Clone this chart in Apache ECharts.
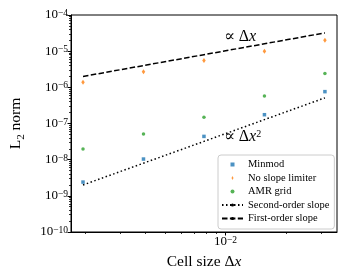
<!DOCTYPE html>
<html><head><meta charset="utf-8">
<script src="https://cdn.jsdelivr.net/npm/echarts@6/dist/echarts.min.js"></script>
<style>html,body{margin:0;padding:0;background:#fff}#c{width:350px;height:280px}</style>
</head><body><div id="c"></div>
<script>
// ---- data ----
const cellSize = [0.001953125, 0.00390625, 0.0078125, 0.015625, 0.03125];
const minmod = [2.4e-9, 1.04e-8, 4.4e-8, 1.75e-7, 7.6e-7];
const noLimiter = [1.38e-6, 2.7e-6, 5.5e-6, 9.9e-6, 2.0e-5];
const amrGrid = [1.97e-8, 5.1e-8, 1.5e-7, 5.8e-7, 2.4e-6];
const secondOrder = [2e-9, 8e-9, 3.2e-8, 1.28e-7, 5.12e-7];
const firstOrder = [2e-6, 4e-6, 8e-6, 1.6e-5, 3.2e-5];
const xMin = 0.001702, xMax = 0.03589;
const yMin = 1e-10, yMax = 1e-4;
const xMajorTicks = [0.01];
const xMinorTicks = [0.002, 0.003, 0.004, 0.005, 0.006, 0.007, 0.008, 0.009, 0.02, 0.03];
const names = ['Minmod', 'No slope limiter', 'AMR grid', 'Second-order slope', 'First-order slope'];

const SERIF = "'Liberation Serif', 'DejaVu Serif', serif";
const pair = ys => cellSize.map((x, i) => [x, ys[i]]);
const powLabel = v => {
  const e = Math.round(Math.log10(v));
  return '{b|10}{s|' + (e < 0 ? '\u2212' : '') + Math.abs(e) + '}';
};
const powRich = {
  b: {fontSize: 13, lineHeight: 13, padding: [3, 0, 0, 0], verticalAlign: 'bottom', fontFamily: SERIF, color: '#000'},
  s: {fontSize: 9.5, lineHeight: 9.5, verticalAlign: 'top', fontFamily: SERIF, color: '#000'}
};
const annRich = {
  n: {fontSize: 16, fontFamily: SERIF, fill: '#000'},
  i: {fontSize: 16, fontFamily: SERIF, fontStyle: 'italic', fill: '#000'},
  s: {fontSize: 10, fontFamily: SERIF, verticalAlign: 'top', fill: '#000'}
};

const chart = echarts.init(document.getElementById('c'), null, {renderer: 'canvas'});
chart.setOption({
  animation: false,
  backgroundColor: '#fff',
  grid: {left: 67, right: 13, top: 15, bottom: 48, show: true, borderColor: '#000', borderWidth: 1, backgroundColor: 'transparent'},
  xAxis: [{
    type: 'log', min: xMin, max: xMax,
    name: '{t|Cell size }{t|\u0394}{i|x}', nameLocation: 'middle', nameGap: 22,
    nameTextStyle: {rich: {t: {fontSize: 15.5, fontFamily: SERIF, color: '#000'}, i: {fontSize: 15.5, fontFamily: SERIF, fontStyle: 'italic', color: '#000'}}},
    axisLine: {lineStyle: {color: '#000', width: 1}},
    axisTick: {customValues: xMajorTicks, length: 3.5, lineStyle: {color: '#000'}},
    axisLabel: {customValues: xMajorTicks, formatter: powLabel, rich: powRich, margin: 3},
    splitLine: {show: false}, minorTick: {show: false}
  }, {
    type: 'log', min: xMin, max: xMax, position: 'bottom',
    axisLine: {show: false},
    axisTick: {customValues: xMinorTicks, length: 2, lineStyle: {color: '#000', width: 0.8}},
    axisLabel: {show: false}, splitLine: {show: false}
  }],
  yAxis: [{
    type: 'log', min: yMin, max: yMax,
    name: '{a|L}{u|2}{a| norm}', nameLocation: 'middle', nameGap: 44, nameRotate: 90,
    nameTextStyle: {rich: {
      a: {fontSize: 15.5, lineHeight: 15.5, padding: [0, 0, 3, 0], verticalAlign: 'bottom', fontFamily: SERIF, color: '#000'},
      u: {fontSize: 11, lineHeight: 11, verticalAlign: 'bottom', fontFamily: SERIF, color: '#000'}
    }},
    axisLine: {lineStyle: {color: '#000', width: 1}},
    axisTick: {length: 3.5, lineStyle: {color: '#000'}},
    minorTick: {show: true, splitNumber: 9, length: 2, lineStyle: {color: '#000', width: 0.8}},
    axisLabel: {formatter: powLabel, rich: powRich, margin: 3},
    splitLine: {show: false}, minorSplitLine: {show: false}
  }],
  legend: {
    orient: 'vertical', left: 218, top: 155,
    data: [
      {name: names[0], icon: 'path://M0 0H10V10H0Z'},
      {name: names[1], icon: 'path://M5 0L8.5 7L5 14L1.5 7Z'},
      {name: names[2], icon: 'circle'},
      {name: names[3]},
      {name: names[4]}
    ],
    itemWidth: 21, itemHeight: 4, itemGap: 2.5,
    padding: [4, 5, 5, 3],
    backgroundColor: 'rgba(255,255,255,0.85)', borderColor: '#cccccc', borderWidth: 1, borderRadius: 3,
    textStyle: {fontFamily: SERIF, fontSize: 10.5, lineHeight: 11, color: '#000'}
  },
  graphic: [
    {type: 'text', left: 224, top: 29, style: {rich: annRich, text: '{n|\u221D \u0394}{i|x}'}},
    {type: 'text', left: 224, top: 129, style: {rich: annRich, text: '{n|\u221D \u0394}{i|x}{s|2}'}}
  ],
  series: [
    {name: names[0], type: 'scatter', data: pair(minmod), symbol: 'rect', symbolSize: 3.5, itemStyle: {color: '#1f77b4'}, z: 3},
    {name: names[1], type: 'scatter', data: pair(noLimiter), symbol: 'diamond', symbolSize: [3.5, 5], itemStyle: {color: '#ff7f0e'}, z: 3},
    {name: names[2], type: 'scatter', data: pair(amrGrid), symbol: 'circle', symbolSize: 3.5, itemStyle: {color: '#2ca02c'}, z: 3},
    {name: names[3], type: 'line', data: pair(secondOrder), symbol: 'none', lineStyle: {color: '#000', width: 1.5, type: [1.5, 2.5]}, itemStyle: {color: '#000'}, z: 2},
    {name: names[4], type: 'line', data: pair(firstOrder), symbol: 'none', lineStyle: {color: '#000', width: 1.5, type: [5.5, 2.4]}, itemStyle: {color: '#000'}, z: 2}
  ]
});
</script></body></html>
